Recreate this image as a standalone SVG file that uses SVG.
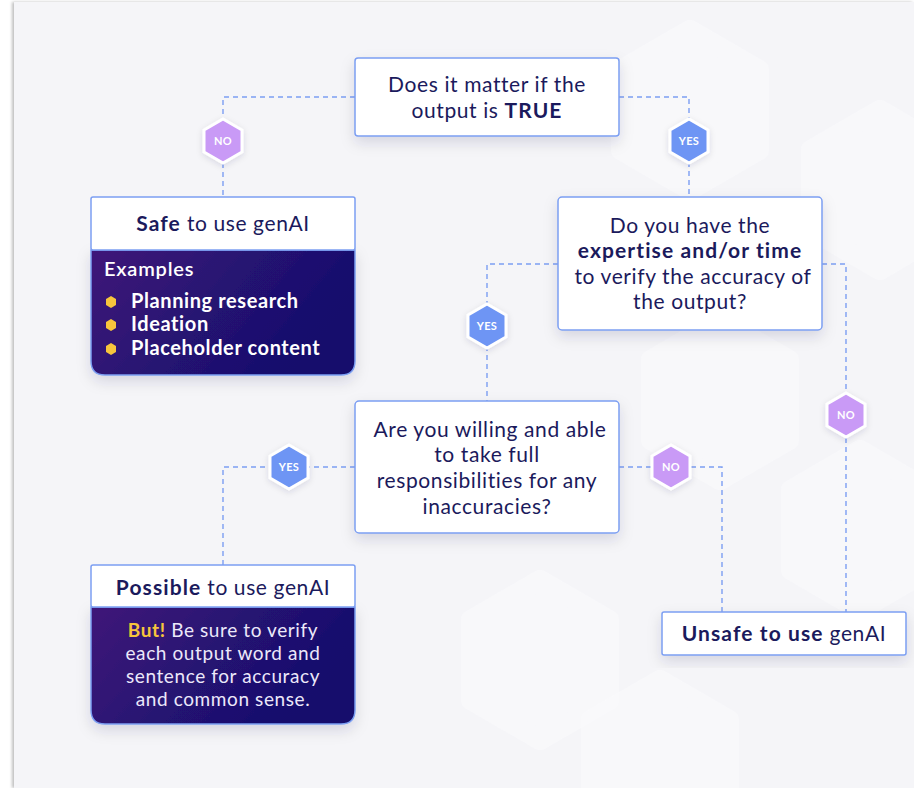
<svg xmlns="http://www.w3.org/2000/svg" width="914" height="788" viewBox="0 0 914 788">
<defs>
<linearGradient id="pg" x1="0" y1="0" x2="1" y2="0.4">
<stop offset="0" stop-color="#3f1679"/>
<stop offset="1" stop-color="#120f6c"/>
</linearGradient>
<filter id="sh" x="-20%" y="-20%" width="140%" height="150%">
<feDropShadow dx="0" dy="6" stdDeviation="7" flood-color="#1c1d4a" flood-opacity="0.13"/>
</filter>
<filter id="hs" x="-40%" y="-40%" width="180%" height="180%">
<feDropShadow dx="0" dy="2" stdDeviation="3" flood-color="#1c1d4a" flood-opacity="0.12"/>
</filter>
<filter id="ps" x="-5%" y="-5%" width="110%" height="110%">
<feDropShadow dx="-2" dy="0" stdDeviation="1.5" flood-color="#000" flood-opacity="0.25"/>
</filter>
<polygon id="hex" points="0,-22 19,-11 19,11 0,22 -19,11 -19,-11"/>
<polygon id="bhex" points="0,-80 69,-40 69,40 0,80 -69,40 -69,-40" stroke-linejoin="round" stroke-width="20"/>
</defs>
<style>
text{font-family:"Lato","Open Sans","Liberation Sans",sans-serif;fill:#1b1a5c}
.q{font-size:21px;text-anchor:middle;letter-spacing:0.6px}
.b{font-weight:bold}
.bb{font-weight:bold;letter-spacing:1.1px}
.box{fill:#fff;stroke:#7c9ef2;stroke-width:1.5}
.ex{font-size:20px;font-weight:600;fill:#fff;letter-spacing:0.8px}
.li{font-size:20px;font-weight:bold;fill:#fff;letter-spacing:0.6px}
.bd{font-size:19px;fill:#ece8fa;text-anchor:middle;letter-spacing:0.6px}
.c{fill:none;stroke:#7c9ef2;stroke-width:1.4;stroke-dasharray:5 4}
.no{fill:#c99af6;stroke:#fff;stroke-width:3}
.yes{fill:#6e95f4;stroke:#fff;stroke-width:3}
.hl{font-size:11px;font-weight:bold;fill:#fff;text-anchor:middle;letter-spacing:0.3px}
.bg{fill:#fbfbfd;stroke:#fbfbfd;opacity:0.55}
</style>
<rect width="914" height="788" fill="#ffffff"/>
<rect x="14" y="2" width="900" height="786" fill="#f5f5f8" filter="url(#ps)"/>
<g id="background">
<use href="#bhex" x="690" y="110" class="bg"/>
<use href="#bhex" x="880" y="190" class="bg"/>
<use href="#bhex" x="720" y="400" class="bg"/>
<use href="#bhex" x="860" y="530" class="bg"/>
<use href="#bhex" x="540" y="660" class="bg"/>
<use href="#bhex" x="660" y="760" class="bg"/>
</g>
<g id="connectors">
<path class="c" d="M355,97 H223 V197"/>
<path class="c" d="M619,97 H689 V197"/>
<path class="c" d="M558,264 H487 V401"/>
<path class="c" d="M822,264 H846 V612"/>
<path class="c" d="M355,467 H223 V565"/>
<path class="c" d="M619,467 H722 V612"/>
</g>
<g id="hex-no-1"><use href="#hex" x="223" y="141" class="no" filter="url(#hs)"/><text class="hl" x="223" y="145">NO</text></g>
<g id="hex-yes-1"><use href="#hex" x="689" y="141" class="yes" filter="url(#hs)"/><text class="hl" x="689" y="145">YES</text></g>
<g id="hex-yes-2"><use href="#hex" x="487" y="326" class="yes" filter="url(#hs)"/><text class="hl" x="487" y="330">YES</text></g>
<g id="hex-no-2"><use href="#hex" x="846" y="415" class="no" filter="url(#hs)"/><text class="hl" x="846" y="419">NO</text></g>
<g id="hex-yes-3"><use href="#hex" x="289" y="467" class="yes" filter="url(#hs)"/><text class="hl" x="289" y="471">YES</text></g>
<g id="hex-no-3"><use href="#hex" x="671" y="467" class="no" filter="url(#hs)"/><text class="hl" x="671" y="471">NO</text></g>
<g id="q-true">
<rect class="box" x="355" y="58" width="264" height="78" rx="3" filter="url(#sh)"/>
<text class="q" x="487" y="92">Does it matter if the</text>
<text class="q" x="487" y="118">output is <tspan class="bb">TRUE</tspan></text>
</g>
<g id="safe">
<path d="M91,250 H355 V361 Q355,375 341,375 H105 Q91,375 91,361 Z" fill="url(#pg)" stroke="#7c9ef2" stroke-width="1.5" filter="url(#sh)"/>
<rect class="box" x="91" y="197" width="264" height="53" rx="2"/>
<text class="q" x="223" y="231"><tspan class="bb">Safe</tspan> to use genAI</text>
<text class="ex" x="104" y="276">Examples</text>
<polygon points="111,296 116,299 116,305 111,308 106,305 106,299" fill="#f7c53c"/>
<polygon points="111,319 116,322 116,328 111,331 106,328 106,322" fill="#f7c53c"/>
<polygon points="111,343 116,346 116,352 111,355 106,352 106,346" fill="#f7c53c"/>
<text class="li" x="131" y="308">Planning research</text>
<text class="li" x="131" y="331">Ideation</text>
<text class="li" x="131" y="355">Placeholder content</text>
</g>
<g id="q-expertise">
<rect class="box" x="558" y="197" width="264" height="133" rx="4" filter="url(#sh)"/>
<text class="q" x="690" y="233">Do you have the</text>
<text class="q bb" x="690" y="258">expertise and/or time</text>
<text class="q" x="693" y="284">to verify the accuracy of</text>
<text class="q" x="690" y="309">the output?</text>
</g>
<g id="q-willing">
<rect class="box" x="355" y="401" width="264" height="132" rx="4" filter="url(#sh)"/>
<text class="q" x="490" y="437">Are you willing and able</text>
<text class="q" x="487" y="462">to take full</text>
<text class="q" x="487" y="488">responsibilities for any</text>
<text class="q" x="487" y="514">inaccuracies?</text>
</g>
<g id="possible">
<path d="M91,607 H355 V710 Q355,724 341,724 H105 Q91,724 91,710 Z" fill="url(#pg)" stroke="#7c9ef2" stroke-width="1.5" filter="url(#sh)"/>
<rect class="box" x="91" y="565" width="264" height="42" rx="2"/>
<text class="q" x="223" y="595"><tspan class="bb">Possible</tspan> to use genAI</text>
<text class="bd" x="223" y="637"><tspan font-weight="bold" fill="#f7c53c">But!</tspan> Be sure to verify</text>
<text class="bd" x="223" y="660">each output word and</text>
<text class="bd" x="223" y="683">sentence for accuracy</text>
<text class="bd" x="223" y="706">and common sense.</text>
</g>
<g id="unsafe">
<rect class="box" x="662" y="612" width="244" height="43" rx="2" filter="url(#sh)"/>
<text class="q" x="784" y="641"><tspan class="bb">Unsafe to use</tspan> genAI</text>
</g>
</svg>
